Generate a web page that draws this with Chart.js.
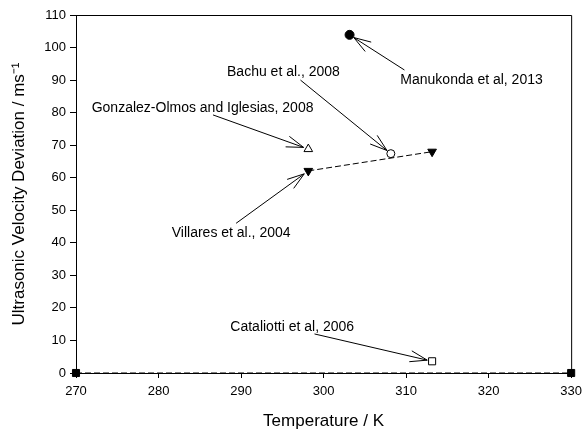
<!DOCTYPE html>
<html>
<head>
<meta charset="utf-8">
<script src="https://cdn.jsdelivr.net/npm/chart.js@4"></script>
<style>
  html, body { margin: 0; padding: 0; background: #fff; }
  #wrap { width: 588px; height: 432px; position: relative; }
</style>
</head>
<body>
<div id="wrap"><canvas id="chart"></canvas></div>
<script>
// Temperature (K) and ultrasonic velocity deviation (m/s) for each source
const baseT = [270, 330];
const baseDev = [0, 0];
const villaresT = [298.15, 313.15];
const villaresDev = [62.1, 68.0];
const manukondaT = [303.15];
const manukondaDev = [103.9];
const bachuT = [308.15];
const bachuDev = [67.4];
const gonzalezT = [298.15];
const gonzalezDev = [68.8];
const cataliottiT = [313.15];
const cataliottiDev = [3.6];

const xTicks = [270, 280, 290, 300, 310, 320, 330];
const yTicks = [0, 10, 20, 30, 40, 50, 60, 70, 80, 90, 100, 110];

// Callout labels: text anchor, arrow tail, and the point the arrow points at
const noteText = ['Manukonda et al, 2013', 'Bachu et al., 2008', 'Gonzalez-Olmos and Iglesias, 2008', 'Villares et al., 2004', 'Cataliotti et al, 2006'];
const noteT = [309.3, 288.3, 271.9, 281.6, 288.7];
const noteV = [90.0, 92.5, 81.4, 43.0, 14.1];
const tailT = [309.8, 297.2, 286.6, 289.4, 298.9];
const tailV = [93.1, 90.0, 79.3, 46.0, 12.0];
const tipT = [manukondaT[0], bachuT[0], gonzalezT[0], villaresT[0], cataliottiT[0]];
const tipV = [manukondaDev[0], bachuDev[0], gonzalezDev[0], villaresDev[0], cataliottiDev[0]];

const FONT = '"Liberation Sans", Arial, sans-serif';

function pts(xs, ys) {
  return xs.map((x, i) => ({ x: x, y: ys[i] }));
}

// top/right frame plus the arrow callouts
const calloutPlugin = {
  id: 'callouts',
  afterDatasetsDraw(chart) {
    const ctx = chart.ctx;
    const a = chart.chartArea;
    const xs = chart.scales.x, ys = chart.scales.y;
    ctx.save();
    ctx.strokeStyle = '#000';
    ctx.lineWidth = 1;
    ctx.beginPath();
    ctx.moveTo(a.left, a.top + 0.5);
    ctx.lineTo(a.right + 0.5, a.top + 0.5);
    ctx.lineTo(a.right + 0.5, a.bottom);
    ctx.stroke();

    ctx.font = '14px ' + FONT;
    ctx.fillStyle = '#000';
    ctx.textAlign = 'left';
    ctx.textBaseline = 'middle';
    noteText.forEach((txt, i) => {
      ctx.fillText(txt, xs.getPixelForValue(noteT[i]), ys.getPixelForValue(noteV[i]));
      const x0 = xs.getPixelForValue(tailT[i]), y0 = ys.getPixelForValue(tailV[i]);
      const px = xs.getPixelForValue(tipT[i]), py = ys.getPixelForValue(tipV[i]);
      const ang = Math.atan2(y0 - py, x0 - px);
      const gap = 5;
      const tx = px + Math.cos(ang) * gap, ty = py + Math.sin(ang) * gap;
      const len = 18, spread = 18 * Math.PI / 180;
      ctx.beginPath();
      ctx.moveTo(x0, y0);
      ctx.lineTo(tx, ty);
      ctx.moveTo(tx + Math.cos(ang + spread) * len, ty + Math.sin(ang + spread) * len);
      ctx.lineTo(tx, ty);
      ctx.lineTo(tx + Math.cos(ang - spread) * len, ty + Math.sin(ang - spread) * len);
      ctx.stroke();
    });
    ctx.restore();
  }
};

const common = { borderColor: '#000', pointBorderColor: '#000', pointBorderWidth: 1, clip: false };

new Chart(document.getElementById('chart'), {
  type: 'scatter',
  data: {
    datasets: [
      Object.assign({}, common, {
        data: pts(baseT, baseDev), showLine: true, borderWidth: 1, borderDash: [6, 3],
        pointStyle: 'rect', pointRadius: 5, pointBackgroundColor: '#000'
      }),
      Object.assign({}, common, {
        data: pts(villaresT, villaresDev), showLine: true, borderWidth: 1, borderDash: [6, 3],
        pointStyle: 'triangle', rotation: 180, pointRadius: 5, pointBackgroundColor: '#000'
      }),
      Object.assign({}, common, {
        data: pts(manukondaT, manukondaDev), pointStyle: 'circle', pointRadius: 4.5, pointBackgroundColor: '#000'
      }),
      Object.assign({}, common, {
        data: pts(bachuT, bachuDev), pointStyle: 'circle', pointRadius: 4, pointBackgroundColor: '#fff'
      }),
      Object.assign({}, common, {
        data: pts(gonzalezT, gonzalezDev), pointStyle: 'triangle', pointRadius: 5, pointBackgroundColor: '#fff'
      }),
      Object.assign({}, common, {
        data: pts(cataliottiT, cataliottiDev), pointStyle: 'rect', pointRadius: 5, pointBackgroundColor: '#fff'
      })
    ]
  },
  options: {
    responsive: true,
    maintainAspectRatio: false,
    animation: false,
    layout: { padding: { top: 15, right: 11, left: 0, bottom: 0 } },
    plugins: { legend: { display: false }, tooltip: { enabled: false } },
    scales: {
      x: {
        type: 'linear', min: 270, max: 330,
        afterBuildTicks: s => { s.ticks = xTicks.map(v => ({ value: v })); },
        afterFit: s => { s.height = 59; },
        border: { color: '#000', width: 1 },
        grid: { drawOnChartArea: false, drawTicks: true, tickLength: 5, color: '#000' },
        ticks: { color: '#000', padding: 6, font: { family: FONT, size: 13 } },
        title: { display: true, text: 'Temperature / K', color: '#000', padding: { top: 0, bottom: 0 }, font: { family: FONT, size: 17 } }
      },
      y: {
        type: 'linear', min: 0, max: 110,
        afterBuildTicks: s => { s.ticks = yTicks.map(v => ({ value: v })); },
        afterFit: s => { s.width = 76; },
        border: { color: '#000', width: 1 },
        grid: { drawOnChartArea: false, drawTicks: true, tickLength: 6, color: '#000' },
        ticks: { color: '#000', padding: 4, font: { family: FONT, size: 13 } },
        title: { display: true, text: 'Ultrasonic Velocity Deviation / ms\u207B\u00B9', color: '#000', padding: { top: 9, bottom: 0 }, font: { family: FONT, size: 17 } }
      }
    }
  },
  plugins: [calloutPlugin]
});
</script>
</body>
</html>
